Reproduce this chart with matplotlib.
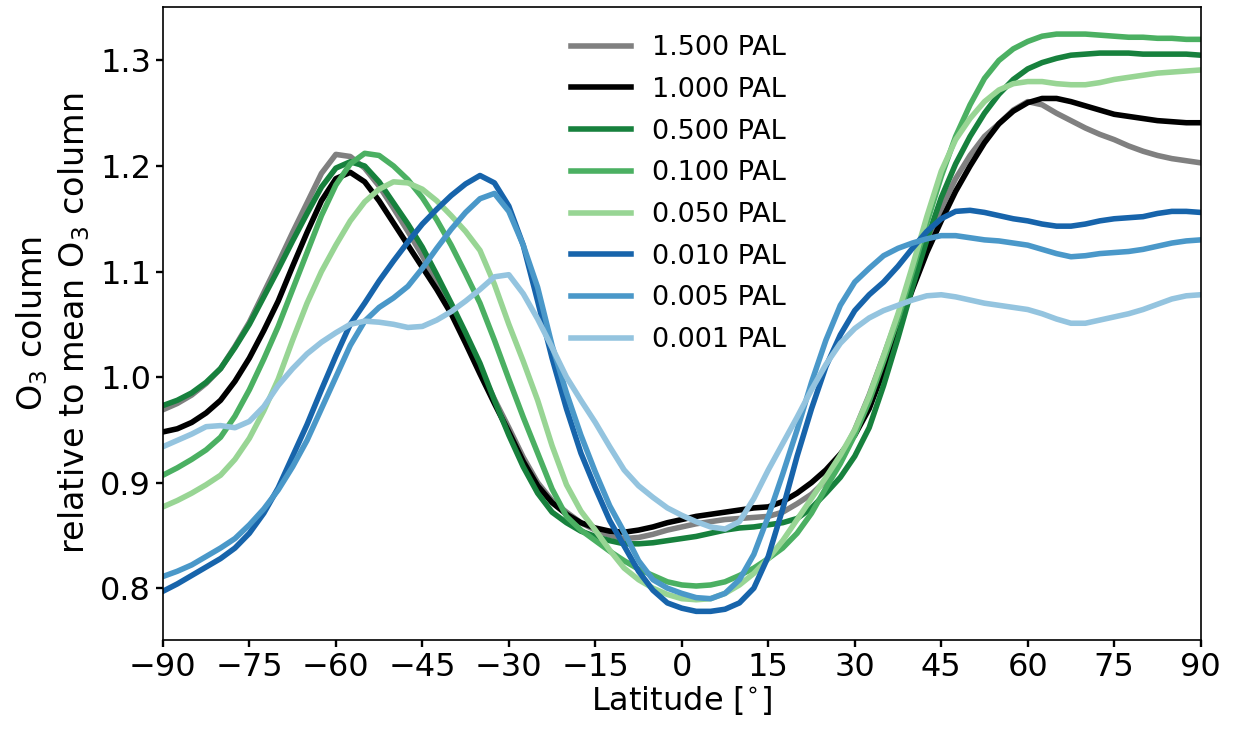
import matplotlib
matplotlib.use("Agg")
import matplotlib.pyplot as plt
import numpy as np

# latitude grid, 2.5 degree steps from -90 to 90
lat = np.arange(-90, 90.1, 2.5)

pal_1500 = [0.969, 0.975, 0.983, 0.994, 1.008, 1.029, 1.052, 1.080, 1.108, 1.137, 1.165, 1.193, 1.211,
            1.209, 1.198, 1.181, 1.160, 1.138, 1.115, 1.090, 1.065, 1.037, 1.008, 0.979, 0.952, 0.924,
            0.900, 0.883, 0.872, 0.862, 0.855, 0.850, 0.847, 0.848, 0.851, 0.855, 0.858, 0.861, 0.863,
            0.865, 0.866, 0.867, 0.868, 0.872, 0.880, 0.889, 0.902, 0.923, 0.950, 0.983, 1.020, 1.058,
            1.095, 1.130, 1.160, 1.188, 1.210, 1.228, 1.240, 1.253, 1.261, 1.258, 1.250, 1.243, 1.236,
            1.230, 1.225, 1.219, 1.214, 1.210, 1.207, 1.205, 1.203]
pal_1000 = [0.948, 0.951, 0.957, 0.966, 0.978, 0.996, 1.018, 1.044, 1.072, 1.105, 1.137, 1.167, 1.188,
            1.194, 1.185, 1.167, 1.146, 1.125, 1.104, 1.083, 1.060, 1.032, 1.003, 0.975, 0.948, 0.920,
            0.897, 0.881, 0.870, 0.862, 0.857, 0.854, 0.853, 0.855, 0.858, 0.862, 0.865, 0.868, 0.870,
            0.872, 0.874, 0.876, 0.877, 0.882, 0.890, 0.900, 0.912, 0.927, 0.945, 0.970, 1.006, 1.045,
            1.083, 1.118, 1.148, 1.176, 1.200, 1.222, 1.240, 1.252, 1.260, 1.264, 1.264, 1.261, 1.257,
            1.253, 1.249, 1.247, 1.245, 1.243, 1.242, 1.241, 1.241]
pal_0500 = [0.973, 0.978, 0.985, 0.995, 1.008, 1.028, 1.050, 1.076, 1.102, 1.129, 1.155, 1.180, 1.198,
            1.204, 1.200, 1.185, 1.165, 1.145, 1.123, 1.097, 1.070, 1.042, 1.013, 0.978, 0.945, 0.915,
            0.890, 0.872, 0.862, 0.854, 0.849, 0.845, 0.842, 0.842, 0.843, 0.845, 0.847, 0.849, 0.852,
            0.855, 0.857, 0.858, 0.860, 0.862, 0.866, 0.876, 0.890, 0.905, 0.925, 0.952, 0.992, 1.037,
            1.085, 1.130, 1.170, 1.202, 1.228, 1.250, 1.268, 1.282, 1.292, 1.298, 1.302, 1.305, 1.306,
            1.307, 1.307, 1.307, 1.306, 1.306, 1.306, 1.306, 1.305]
pal_0100 = [0.907, 0.914, 0.922, 0.931, 0.943, 0.963, 0.988, 1.017, 1.048, 1.083, 1.118, 1.153, 1.182,
            1.202, 1.212, 1.210, 1.200, 1.187, 1.170, 1.149, 1.125, 1.098, 1.070, 1.035, 0.998, 0.962,
            0.928, 0.894, 0.868, 0.855, 0.845, 0.835, 0.826, 0.818, 0.812, 0.806, 0.803, 0.802, 0.803,
            0.806, 0.812, 0.819, 0.828, 0.838, 0.852, 0.871, 0.895, 0.918, 0.945, 0.977, 1.015, 1.055,
            1.100, 1.146, 1.190, 1.228, 1.258, 1.283, 1.300, 1.311, 1.318, 1.323, 1.325, 1.325, 1.325,
            1.324, 1.323, 1.322, 1.322, 1.321, 1.321, 1.320, 1.320]
pal_0050 = [0.877, 0.883, 0.890, 0.898, 0.907, 0.922, 0.942, 0.968, 0.998, 1.035, 1.070, 1.100, 1.125,
            1.148, 1.166, 1.178, 1.185, 1.184, 1.178, 1.167, 1.153, 1.138, 1.120, 1.088, 1.050, 1.015,
            0.978, 0.935, 0.898, 0.873, 0.855, 0.836, 0.819, 0.808, 0.800, 0.794, 0.790, 0.789, 0.790,
            0.795, 0.803, 0.814, 0.828, 0.845, 0.865, 0.885, 0.905, 0.926, 0.950, 0.982, 1.020, 1.060,
            1.105, 1.152, 1.195, 1.225, 1.245, 1.261, 1.272, 1.278, 1.280, 1.280, 1.278, 1.277, 1.277,
            1.279, 1.282, 1.284, 1.286, 1.288, 1.289, 1.290, 1.291]
pal_0010 = [0.797, 0.804, 0.812, 0.820, 0.828, 0.838, 0.852, 0.871, 0.895, 0.925, 0.955, 0.988, 1.020,
            1.050, 1.070, 1.091, 1.110, 1.128, 1.145, 1.159, 1.172, 1.183, 1.191, 1.184, 1.162, 1.125,
            1.072, 1.018, 0.970, 0.928, 0.895, 0.864, 0.840, 0.816, 0.798, 0.786, 0.781, 0.778, 0.778,
            0.780, 0.786, 0.800, 0.830, 0.875, 0.925, 0.970, 1.010, 1.040, 1.063, 1.078, 1.090, 1.105,
            1.122, 1.138, 1.150, 1.157, 1.158, 1.156, 1.153, 1.150, 1.148, 1.145, 1.143, 1.143, 1.145,
            1.148, 1.150, 1.151, 1.152, 1.155, 1.157, 1.157, 1.156]
pal_0005 = [0.811, 0.816, 0.822, 0.830, 0.838, 0.847, 0.860, 0.875, 0.893, 0.915, 0.940, 0.970, 1.000,
            1.030, 1.053, 1.066, 1.075, 1.086, 1.103, 1.122, 1.140, 1.156, 1.169, 1.174, 1.157, 1.125,
            1.085, 1.030, 0.985, 0.945, 0.910, 0.878, 0.853, 0.826, 0.808, 0.800, 0.795, 0.791, 0.790,
            0.795, 0.808, 0.832, 0.868, 0.908, 0.950, 0.995, 1.035, 1.068, 1.090, 1.103, 1.115, 1.122,
            1.127, 1.131, 1.134, 1.134, 1.132, 1.130, 1.129, 1.127, 1.125, 1.121, 1.117, 1.114, 1.115,
            1.117, 1.118, 1.119, 1.121, 1.124, 1.127, 1.129, 1.130]
pal_0001 = [0.934, 0.940, 0.946, 0.953, 0.954, 0.952, 0.958, 0.972, 0.992, 1.008, 1.022, 1.033, 1.042,
            1.050, 1.053, 1.052, 1.050, 1.047, 1.048, 1.054, 1.062, 1.072, 1.083, 1.095, 1.097, 1.079,
            1.055, 1.028, 1.000, 0.978, 0.957, 0.934, 0.912, 0.897, 0.886, 0.876, 0.869, 0.863, 0.858,
            0.856, 0.863, 0.885, 0.912, 0.937, 0.962, 0.988, 1.012, 1.032, 1.046, 1.056, 1.063, 1.068,
            1.073, 1.077, 1.078, 1.076, 1.073, 1.070, 1.068, 1.066, 1.064, 1.060, 1.055, 1.051, 1.051,
            1.054, 1.057, 1.060, 1.064, 1.069, 1.074, 1.077, 1.078]

labels = ["1.500 PAL", "1.000 PAL", "0.500 PAL", "0.100 PAL",
          "0.050 PAL", "0.010 PAL", "0.005 PAL", "0.001 PAL"]
series = [pal_1500, pal_1000, pal_0500, pal_0100, pal_0050, pal_0010, pal_0005, pal_0001]
colors = ["#808080", "#000000", "#17813d", "#4bb062", "#98d594", "#1764ab", "#4a98c9", "#94c4df"]


def main():
    fig = plt.figure(figsize=(12.34, 7.38), dpi=100)
    ax = fig.add_axes([0.132, 0.133, 0.841, 0.858])

    for vals, lab, c in zip(series, labels, colors):
        ax.plot(lat, vals, color=c, lw=4.0, label=lab, solid_joinstyle="round")

    ax.set_xlim(-90, 90)
    ax.set_ylim(0.751, 1.351)
    ax.set_xticks(np.arange(-90, 91, 15))
    ax.set_yticks([0.8, 0.9, 1.0, 1.1, 1.2, 1.3])
    ax.set_yticklabels(["0.8", "0.9", "1.0", "1.1", "1.2", "1.3"])
    ax.tick_params(labelsize=23, length=5, width=1.7)
    for sp in ax.spines.values():
        sp.set_linewidth(1.2)

    ax.set_xlabel(r"Latitude [$^{\circ}$]", fontsize=23, labelpad=1)
    ax.set_ylabel("O$_3$ column\nrelative to mean O$_3$ column", fontsize=24, labelpad=6)

    ax.legend(loc="upper left", bbox_to_anchor=(0.383, 0.972), frameon=False, fontsize=19.5,
              handlelength=2.2, handletextpad=0.8, labelspacing=0.58, borderaxespad=0)

    fig.savefig("out.png", dpi=100)


if __name__ == "__main__":
    main()
